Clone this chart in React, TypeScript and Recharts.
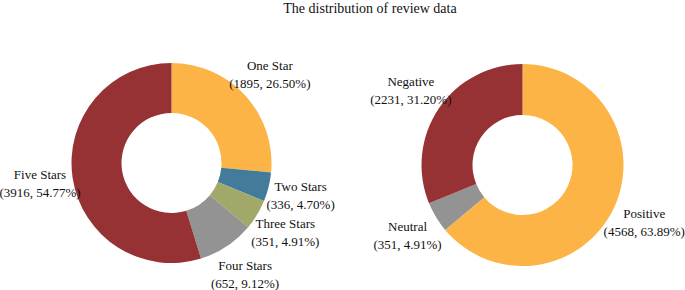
import { PieChart, Pie, Cell } from 'recharts';

const starNames = ['One Star', 'Two Stars', 'Three Stars', 'Four Stars', 'Five Stars'];
const starCounts = [1895, 336, 351, 652, 3916];
const starPercents = ['26.50%', '4.70%', '4.91%', '9.12%', '54.77%'];
const starColors = ['#fdb447', '#437b9b', '#a1a86a', '#939393', '#963234'];

const sentimentNames = ['Positive', 'Neutral', 'Negative'];
const sentimentCounts = [4568, 351, 2231];
const sentimentPercents = ['63.89%', '4.91%', '31.20%'];
const sentimentColors = ['#fdb447', '#939393', '#963234'];

const starData = starNames.map((name, i) => ({ name, value: starCounts[i], pct: starPercents[i] }));
const sentimentData = sentimentNames.map((name, i) => ({ name, value: sentimentCounts[i], pct: sentimentPercents[i] }));

const RADIAN = Math.PI / 180;
const FONT = '"Liberation Serif", "Times New Roman", serif';

// two-line label centred at ~1.33 x outer radius along the slice's mid angle
function renderLabel(props: any) {
  const { cx, cy, midAngle, outerRadius, payload, value } = props;
  const r = outerRadius * 1.33;
  const x = cx + r * Math.cos(-midAngle * RADIAN);
  const y = cy + r * Math.sin(-midAngle * RADIAN);
  return (
    <text
      x={x}
      y={y}
      textAnchor="middle"
      fill="#111"
      style={{ fontFamily: FONT, fontSize: 13 }}
    >
      <tspan x={x} dy={-4}>{payload.name}</tspan>
      <tspan x={x} dy={18}>{`(${value}, ${payload.pct})`}</tspan>
    </text>
  );
}

export default function App() {
  return (
    <div style={{ position: 'absolute', left: 0, top: 0, width: 685, height: 290, background: '#fff' }}>
      <div
        style={{
          position: 'absolute',
          left: 0,
          top: 1,
          width: 740,
          textAlign: 'center',
          fontFamily: FONT,
          fontSize: 14,
          lineHeight: '16px',
          color: '#111',
        }}
      >
        The distribution of review data
      </div>
      <PieChart width={685} height={290} margin={{ top: 0, right: 0, bottom: 0, left: 0 }}>
        <Pie
          data={starData}
          dataKey="value"
          cx={171.5}
          cy={163}
          innerRadius={50}
          outerRadius={100}
          startAngle={90}
          endAngle={-270}
          stroke="none"
          labelLine={false}
          label={renderLabel}
          isAnimationActive={false}
        >
          {starData.map((d, i) => (
            <Cell key={d.name} fill={starColors[i]} />
          ))}
        </Pie>
        <Pie
          data={sentimentData}
          dataKey="value"
          cx={522.5}
          cy={165}
          innerRadius={50}
          outerRadius={101}
          startAngle={90}
          endAngle={-270}
          stroke="none"
          labelLine={false}
          label={renderLabel}
          isAnimationActive={false}
        >
          {sentimentData.map((d, i) => (
            <Cell key={d.name} fill={sentimentColors[i]} />
          ))}
        </Pie>
      </PieChart>
    </div>
  );
}
